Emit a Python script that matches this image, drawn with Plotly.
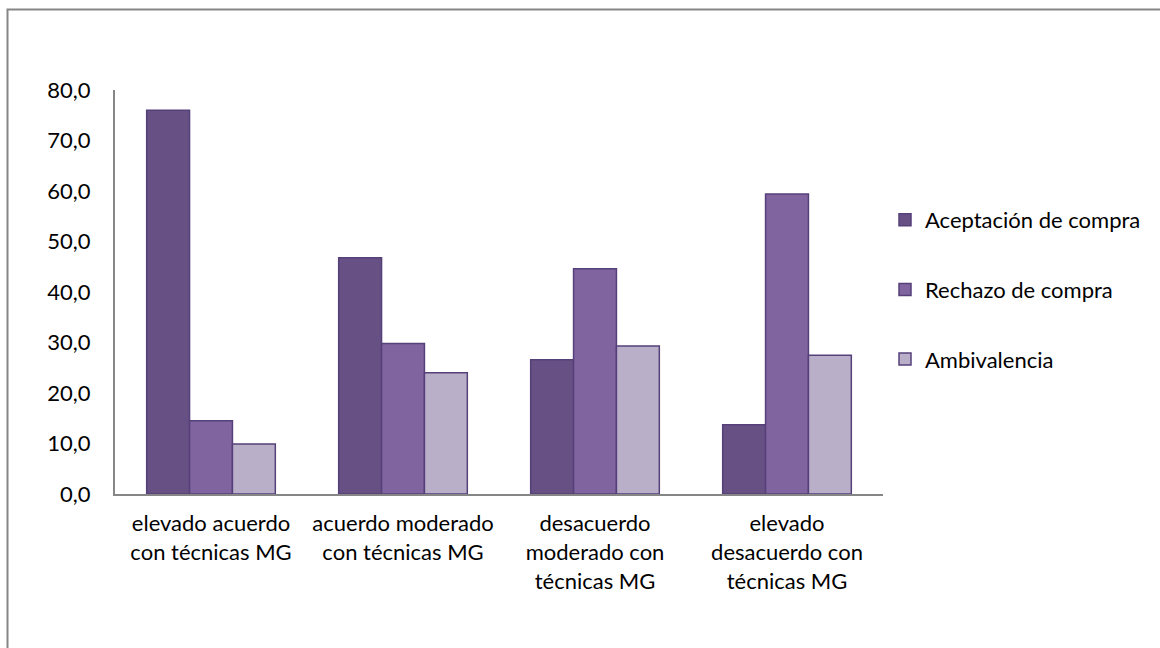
import plotly.graph_objects as go

categories = [
    "elevado acuerdo<br>con técnicas MG",
    "acuerdo moderado<br>con técnicas MG",
    "desacuerdo<br>moderado con<br>técnicas MG",
    "elevado<br>desacuerdo con<br>técnicas MG",
]
series_names = ["Aceptación de compra", "Rechazo de compra", "Ambivalencia"]
aceptacion = [76.0, 46.8, 26.6, 13.7]
rechazo = [14.5, 29.8, 44.6, 59.4]
ambivalencia = [9.9, 24.0, 29.3, 27.5]
y_ticks = [0, 10, 20, 30, 40, 50, 60, 70, 80]
y_tick_labels = ["0,0", "10,0", "20,0", "30,0", "40,0", "50,0", "60,0", "70,0", "80,0"]

colors = ["#675084", "#8064A0", "#B9AFC9"]
outline = "#56407A"
FONT = "Lato"
FS = 22

fig = go.Figure()
for i, (name, vals) in enumerate(zip(series_names, [aceptacion, rechazo, ambivalencia])):
    fig.add_trace(go.Bar(
        x=categories, y=vals, name=name,
        marker=dict(color=colors[i], line=dict(color=outline, width=1.5)),
        legendgroup=f"g{i}",
    ))

W, H = 1160, 648
L, R, T, B = 115, 277, 90, 154
pw, ph = W - L - R, H - T - B

def px_x(p):
    return (p - L) / pw

def px_y(p):
    return (H - B - p) / ph

fig.update_layout(
    width=W, height=H,
    margin=dict(l=L, r=R, t=T, b=B),
    paper_bgcolor="white", plot_bgcolor="white",
    font=dict(family=FONT, size=FS, color="#000000"),
    barmode="group", bargap=0.33, bargroupgap=0,
    showlegend=True,
    legend=dict(
        x=px_x(885), y=px_y(199), xanchor="left", yanchor="top",
        font=dict(family=FONT, size=FS, color="#000000"),
        tracegroupgap=38, bgcolor="rgba(0,0,0,0)",
    ),
    xaxis=dict(
        showline=True, linecolor="#868686", linewidth=2,
        showgrid=False, ticks="", ticklabelstandoff=9,
        tickfont=dict(family=FONT, size=FS),
        fixedrange=True,
    ),
    yaxis=dict(
        range=[0, 80], tickvals=y_ticks, ticktext=y_tick_labels,
        showline=True, linecolor="#868686", linewidth=2,
        showgrid=False, zeroline=False, ticks="", ticklabelstandoff=18,
        tickfont=dict(family=FONT, size=FS),
        fixedrange=True,
    ),
    shapes=[dict(
        type="rect", xref="paper", yref="paper",
        x0=px_x(7.5), x1=px_x(1170), y0=px_y(660), y1=px_y(9.5),
        line=dict(color="#868686", width=2), fillcolor="rgba(0,0,0,0)",
        layer="below",
    )],
)

fig.write_html("out.html", config={"displayModeBar": False})
